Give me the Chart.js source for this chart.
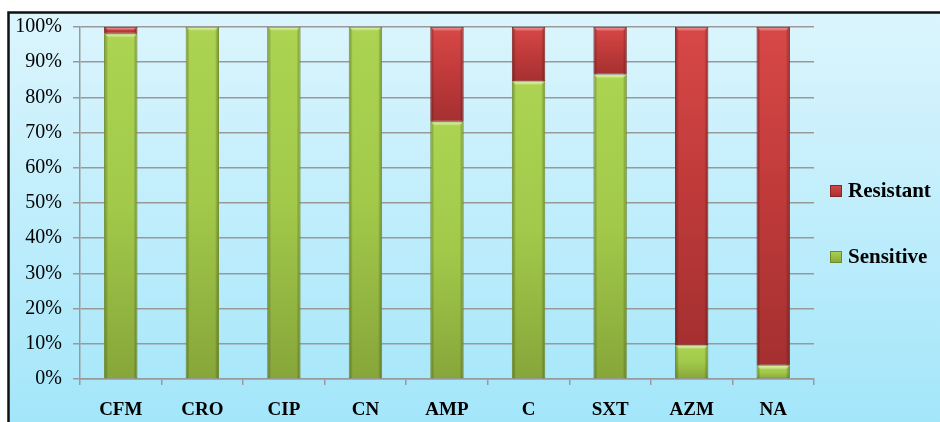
<!DOCTYPE html>
<html>
<head>
<meta charset="utf-8">
<script src="https://cdn.jsdelivr.net/npm/chart.js@4/dist/chart.umd.min.js"></script>
<style>
html,body{margin:0;padding:0;background:#fff;}
#wrap{width:940px;height:422px;position:relative;}
</style>
</head>
<body>
<div id="wrap"><canvas id="c" width="940" height="422"></canvas></div>
<script>
const categories = ['CFM', 'CRO', 'CIP', 'CN', 'AMP', 'C', 'SXT', 'AZM', 'NA'];
const sensitive = [98.1, 100, 100, 100, 73.1, 84.6, 86.5, 9.6, 3.8];
const resistant = [1.9, 0, 0, 0, 26.9, 15.4, 13.5, 90.4, 96.2];
const seriesNames = ['Sensitive', 'Resistant'];
const yTickStep = 10;

const palette = {
  Sensitive: {top: '#acd452', mid: '#a2c94a', bottom: '#87a63a', border: '#6f8a2b', hi: '#d8f27e', edge: 'rgba(70,90,20,0.45)'},
  Resistant: {top: '#d84848', mid: '#c03a3a', bottom: '#a53030', border: '#842626', hi: '#ec6e6e', edge: 'rgba(90,15,15,0.45)'}
};

function segGradient(ctx, name) {
  const chart = ctx.chart;
  const p = palette[name];
  if (!chart.chartArea || ctx.type !== 'data') return p.mid;
  const y = chart.scales.y;
  let base = 0;
  for (let d = 0; d < ctx.datasetIndex; d++) base += chart.data.datasets[d].data[ctx.dataIndex];
  const v = chart.data.datasets[ctx.datasetIndex].data[ctx.dataIndex];
  const yTop = y.getPixelForValue(base + v);
  const yBot = y.getPixelForValue(base);
  if (!(yBot - yTop > 0.5)) return p.mid;
  const g = chart.ctx.createLinearGradient(0, yTop, 0, yBot);
  g.addColorStop(0, p.top);
  g.addColorStop(0.5, p.mid);
  g.addColorStop(1, p.bottom);
  return g;
}

const bgPlugin = {
  id: 'bg',
  beforeDraw(chart) {
    const c = chart.ctx;
    c.save();
    c.fillStyle = '#ffffff';
    c.fillRect(0, 0, chart.width, chart.height);
    const g = c.createLinearGradient(0, 12, 0, chart.height);
    g.addColorStop(0, '#dcf5fd');
    g.addColorStop(1, '#a3e6fa');
    c.fillStyle = g;
    c.fillRect(9, 12, chart.width - 9, chart.height - 12);
    c.strokeStyle = '#111';
    c.lineWidth = 2.5;
    c.beginPath();
    c.moveTo(chart.width, 12.5);
    c.lineTo(8.5, 12.5);
    c.lineTo(8.5, chart.height);
    c.stroke();
    c.restore();
  }
};

const bevelPlugin = {
  id: 'bevel',
  afterDatasetsDraw(chart) {
    const c = chart.ctx;
    c.save();
    chart.data.datasets.forEach((ds, di) => {
      const p = palette[ds.label];
      chart.getDatasetMeta(di).data.forEach((bar) => {
        const h = bar.base - bar.y;
        if (h < 1) return;
        const left = bar.x - bar.width / 2;
        const right = left + bar.width;
        // side shading
        const gl = c.createLinearGradient(left, 0, left + 4, 0);
        gl.addColorStop(0, p.edge);
        gl.addColorStop(1, 'rgba(0,0,0,0)');
        c.fillStyle = gl;
        c.fillRect(left + 1, bar.y, 4, h);
        const gr = c.createLinearGradient(right, 0, right - 4, 0);
        gr.addColorStop(0, p.edge);
        gr.addColorStop(1, 'rgba(0,0,0,0)');
        c.fillStyle = gr;
        c.fillRect(right - 5, bar.y, 4, h);
        // top highlight
        const sh = Math.min(4, h / 2);
        const g = c.createLinearGradient(0, bar.y, 0, bar.y + sh);
        g.addColorStop(0, p.hi);
        g.addColorStop(1, 'rgba(255,255,255,0)');
        c.fillStyle = g;
        c.beginPath();
        c.moveTo(left + 1, bar.y + 0.5);
        c.lineTo(right - 1, bar.y + 0.5);
        c.lineTo(right - 4, bar.y + sh);
        c.lineTo(left + 4, bar.y + sh);
        c.closePath();
        c.fill();
      });
    });
    c.restore();
  }
};

const legendPlugin = {
  id: 'sideLegend',
  afterDraw(chart) {
    const c = chart.ctx;
    c.save();
    const items = chart.data.datasets.map((d) => d.label).reverse();
    const ys = [191, 257];
    items.forEach((name, i) => {
      const p = palette[name];
      const y = ys[i];
      const g = c.createLinearGradient(0, y - 6, 0, y + 6);
      g.addColorStop(0, p.top);
      g.addColorStop(1, p.bottom);
      c.fillStyle = g;
      c.fillRect(830, y - 6, 12, 12);
      c.strokeStyle = p.border;
      c.lineWidth = 1;
      c.strokeRect(830.5, y - 5.5, 11, 11);
      c.fillStyle = '#000';
      c.font = 'bold 21px "Liberation Serif", "Times New Roman", serif';
      c.textBaseline = 'middle';
      c.textAlign = 'left';
      c.fillText(name, 848, y + 1);
    });
    c.restore();
  }
};

const serif = '"Liberation Serif", "Times New Roman", serif';

new Chart(document.getElementById('c'), {
  type: 'bar',
  data: {
    labels: categories,
    datasets: [
      {label: seriesNames[0], data: sensitive,
       backgroundColor: (ctx) => segGradient(ctx, 'Sensitive'),
       borderColor: palette.Sensitive.border, borderWidth: 1, borderSkipped: false,
       barPercentage: 0.41, categoryPercentage: 1.0},
      {label: seriesNames[1], data: resistant,
       backgroundColor: (ctx) => segGradient(ctx, 'Resistant'),
       borderColor: palette.Resistant.border, borderWidth: 1, borderSkipped: false,
       barPercentage: 0.41, categoryPercentage: 1.0}
    ]
  },
  options: {
    responsive: false,
    animation: false,
    devicePixelRatio: 1,
    layout: {padding: {top: 27, right: 126, bottom: 0, left: 0}},
    plugins: {legend: {display: false}, tooltip: {enabled: false}},
    scales: {
      x: {
        stacked: true,
        grid: {display: true, drawOnChartArea: false, drawTicks: true, tickLength: 6, color: '#999999', lineWidth: 1.5, offset: true},
        border: {display: true, color: '#999999', width: 1.5},
        ticks: {color: '#000', padding: 14, font: {family: serif, size: 19, weight: 'bold'}, maxRotation: 0},
        afterFit(s) { s.height = 43; }
      },
      y: {
        stacked: true,
        min: 0, max: 100,
        grid: {color: '#999999', lineWidth: 1.5, tickLength: 7},
        border: {display: true, color: '#999999', width: 1.5},
        ticks: {stepSize: yTickStep, color: '#000', padding: 11, font: {family: serif, size: 20},
                callback: (v) => v + '%'},
        afterFit(s) { s.width = 80; }
      }
    }
  },
  plugins: [bgPlugin, bevelPlugin, legendPlugin]
});
</script>
</body>
</html>
